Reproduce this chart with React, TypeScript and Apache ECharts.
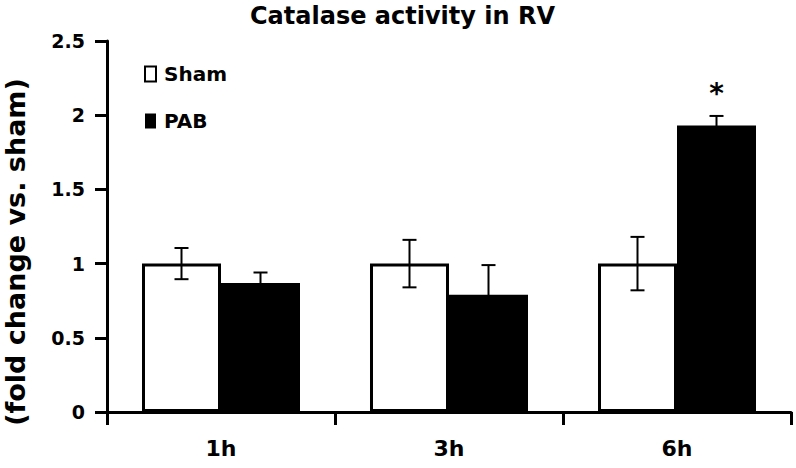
import React, { useEffect, useRef } from "react";
import * as echarts from "echarts";

const categories = ["1h", "3h", "6h"];
const seriesNames = ["Sham", "PAB"];
const shamValues = [1, 1, 1];
const shamErrors = [0.105, 0.16, 0.18];
const pabValues = [0.87, 0.79, 1.93];
const pabErrors = [0.07, 0.2, 0.065];
const pabSignificant = [false, false, true];

const titleText = "Catalase activity in RV";
const yAxisTitle = "(fold change vs. sham)";

const FONT = "DejaVu Sans";
const BAR_FRACTION = 0.3465;

function errorSeries(name: string, values: number[], errors: number[], side: number, marks?: boolean[]) {
  return {
    type: "custom",
    name,
    silent: true,
    z: 5,
    data: values.map((v, i) => [i, v, errors[i], marks && marks[i] ? 1 : 0]),
    encode: { x: 0, y: 1 },
    renderItem: (_params: any, api: any) => {
      const idx = api.value(0);
      const v = api.value(1);
      const e = api.value(2);
      const c = api.coord([idx, v]);
      const catW = api.size([1, 0])[0];
      const bw = catW * BAR_FRACTION;
      const x = c[0] + (side * bw) / 2;
      const top = api.coord([idx, v + e])[1];
      const bot = api.coord([idx, v - e])[1];
      const half = 7;
      const style = { stroke: "#000", lineWidth: 2 };
      const children: any[] = [
        { type: "line", shape: { x1: x, y1: top, x2: x, y2: bot }, style },
        { type: "line", shape: { x1: x - half, y1: top, x2: x + half, y2: top }, style },
        { type: "line", shape: { x1: x - half, y1: bot, x2: x + half, y2: bot }, style },
      ];
      if (api.value(3)) {
        children.push({
          type: "text",
          x,
          y: top - 22,
          style: {
            text: "*",
            fontSize: 28,
            fontWeight: "bold",
            fontFamily: FONT,
            fill: "#000",
            align: "center",
            verticalAlign: "middle",
          },
        });
      }
      return { type: "group", children };
    },
  };
}

export default function App() {
  const ref = useRef<HTMLDivElement>(null);

  useEffect(() => {
    if (!ref.current) return;
    const chart = echarts.init(ref.current, undefined, { renderer: "svg" });
    const axisLabelStyle = { fontFamily: FONT, fontWeight: "bold" as const, color: "#000" };
    chart.setOption({
      animation: false,
      backgroundColor: "#fff",
      title: {
        text: titleText,
        left: 250,
        top: 4,
        padding: 0,
        textStyle: { fontFamily: FONT, fontWeight: "bold", fontSize: 24, color: "#000" },
      },
      legend: {
        data: seriesNames,
        orient: "vertical",
        left: 144,
        top: 64,
        padding: 0,
        icon: "rect",
        itemWidth: 11,
        itemHeight: 15,
        itemGap: 27,
        textStyle: { ...axisLabelStyle, fontSize: 20, padding: [0, 0, 0, 3] },
      },
      grid: { left: 107, right: 5, top: 41, bottom: 56, containLabel: false },
      xAxis: {
        type: "category",
        data: categories,
        boundaryGap: true,
        axisLine: { lineStyle: { color: "#000", width: 3 } },
        axisTick: { show: true, length: 13, lineStyle: { color: "#000", width: 3 } },
        axisLabel: { ...axisLabelStyle, fontSize: 22, margin: 25 },
      },
      yAxis: {
        type: "value",
        min: 0,
        max: 2.5,
        interval: 0.5,
        splitLine: { show: false },
        axisLine: { show: true, lineStyle: { color: "#000", width: 3 } },
        axisTick: { show: true, length: 12, lineStyle: { color: "#000", width: 3 } },
        axisLabel: { ...axisLabelStyle, fontSize: 19, margin: 22 },
      },
      graphic: [
        {
          type: "text",
          x: 15,
          y: 252,
          rotation: Math.PI / 2,
          style: {
            text: yAxisTitle,
            fontFamily: FONT,
            fontWeight: "bold",
            fontSize: 27,
            fill: "#000",
            align: "center",
            verticalAlign: "middle",
          },
        },
      ],
      series: [
        {
          type: "bar",
          name: seriesNames[0],
          data: shamValues,
          barWidth: (BAR_FRACTION * 100).toFixed(2) + "%",
          barGap: "0%",
          itemStyle: { color: "#fff", borderColor: "#000", borderWidth: 3 },
        },
        {
          type: "bar",
          name: seriesNames[1],
          data: pabValues,
          barWidth: (BAR_FRACTION * 100).toFixed(2) + "%",
          barGap: "0%",
          itemStyle: { color: "#000", borderColor: "#000", borderWidth: 0 },
        },
        errorSeries("Sham error", shamValues, shamErrors, -1),
        errorSeries("PAB error", pabValues, pabErrors, 1, pabSignificant),
      ],
    });
    return () => chart.dispose();
  }, []);

  return (
    <div
      ref={ref}
      style={{ position: "fixed", left: 0, top: 0, width: 796, height: 468, background: "#fff" }}
    />
  );
}
